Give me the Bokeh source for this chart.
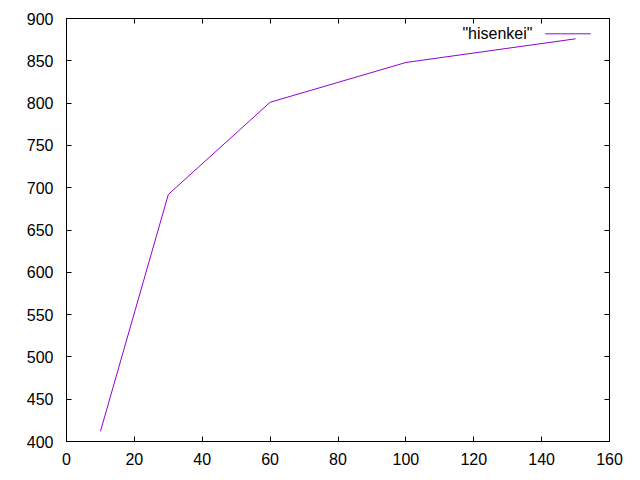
from bokeh.plotting import figure
from bokeh.models import LinearAxis, Label, BoxAnnotation, FixedTicker
from bokeh.embed import file_html
from bokeh.resources import INLINE

x_vals = [10, 30, 60, 100, 150]
y_vals = [412, 692, 801, 848, 876]
series_name = '"hisenkei"'
x_ticks = [0, 20, 40, 60, 80, 100, 120, 140, 160]
y_ticks = [400, 450, 500, 550, 600, 650, 700, 750, 800, 850, 900]

COLOR = "#9400D3"
FONT = "Liberation Sans"

p = figure(width=632, height=472, x_range=(0, 160), y_range=(400, 900),
           output_backend="svg", toolbar_location=None,
           min_border_left=66, min_border_right=23, min_border_top=18, min_border_bottom=31,
           x_axis_location=None, y_axis_location=None)
p.grid.visible = False
p.outline_line_color = "black"
p.outline_line_width = 1
p.background_fill_color = "white"
p.border_fill_color = "white"

def style(ax, labels=True):
    ax.axis_line_color = "black"
    ax.major_tick_in = 5
    ax.major_tick_out = 0
    ax.minor_tick_in = 0
    ax.minor_tick_out = 0
    ax.major_tick_line_color = "black"
    ax.major_label_text_font = FONT
    ax.major_label_text_font_size = "16px"
    ax.major_label_text_color = "black"
    ax.major_label_standoff = 12
    if not labels:
        ax.major_label_text_alpha = 0
        ax.major_label_text_font_size = "1px"
        ax.major_label_standoff = 0

xb = LinearAxis(ticker=FixedTicker(ticks=x_ticks)); style(xb)
xb.major_label_standoff = 11
yl = LinearAxis(ticker=FixedTicker(ticks=y_ticks)); style(yl)
yl.major_label_standoff = 13
xt = LinearAxis(ticker=FixedTicker(ticks=x_ticks)); style(xt, False)
yr = LinearAxis(ticker=FixedTicker(ticks=y_ticks)); style(yr, False)
p.add_layout(xb, "below")
p.add_layout(yl, "left")
p.add_layout(xt, "above")
p.add_layout(yr, "right")

p.line(x_vals, y_vals, line_color=COLOR, line_width=1)

# gnuplot-style key: text then line sample
p.add_layout(Label(x=137.3, y=882.3, text=series_name, text_align="right",
                   text_baseline="middle", text_font=FONT, text_font_size="16px",
                   text_color="black"))
p.add_layout(BoxAnnotation(left=141.1, right=154.4, bottom=881.7, top=882.1,
                           fill_color=COLOR, fill_alpha=1, line_color=COLOR,
                           line_width=0.5, line_alpha=1))

open("out.html", "w").write(file_html(p, INLINE))
